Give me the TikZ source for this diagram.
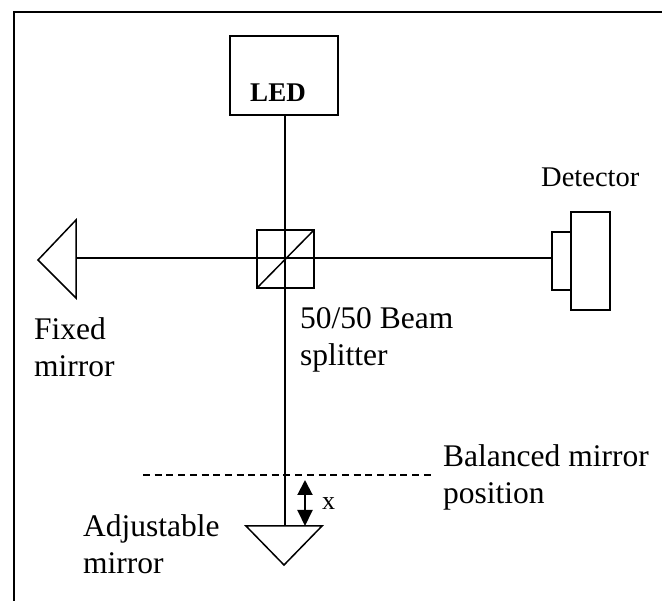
\documentclass[tikz,border=0pt]{standalone}
\usepackage{fontspec}
\setmainfont{Liberation Serif}
\usetikzlibrary{arrows.meta}
\tikzset{
    bauteil/.style={draw, line width=1.6pt, inner sep=0pt, outer sep=0pt, minimum width=#1},
    beschriftung/.style={font=\fontsize{31.5}{37}\selectfont, align=left, anchor=north west, inner sep=0pt},
    strahl/.style={line width=1.5pt}
}
\begin{document}
\begin{tikzpicture}[x=1pt,y=-1pt]
        \useasboundingbox (0,0) rectangle (662,601);
        \coordinate (ecke) at (14,12);
        \draw[line width=2pt] (14,601) -- (ecke) -- (662,12);

        % Bauteile
        \node [bauteil=108pt, minimum height=79pt] (led) at (284,75.5) {};
        \node [font=\fontsize{27}{32}\selectfont\bfseries, anchor=base, inner sep=0pt] (ledtext) at (278,102) {LED};
        \node [bauteil=57pt, minimum height=58pt] (teiler) at (285.5,259) {};
        \node [bauteil=39pt, minimum height=98pt] (detektor) at (590.5,261) {};
        \node [bauteil=19pt, minimum height=58pt, anchor=east] (fenster) at (detektor.west |- 0,261) {};
        \coordinate (spiegelfest) at (76,258);
        \coordinate (spiegelbeweglich) at (285,526);

        % Spiegel
        \draw[strahl, line join=miter] (76,220) -- (38,260) -- (76,298) -- cycle;
        \draw[strahl, line join=miter] (246,526) -- (322,526) -- (284,565) -- cycle;

        % Strahlen
        \draw[strahl] (led.south) ++(1,0) -- (spiegelbeweglich);
        \draw[strahl] (spiegelfest) -- (fenster.west |- spiegelfest);
        \draw[strahl] (teiler.south west) -- (teiler.north east);

        % Position
        \coordinate (balancelinks) at (143,475);
        \coordinate (balancerechts) at (431,475);
        \draw[line width=1.8pt, dash pattern=on 7pt off 4.7pt] (balancelinks) -- (balancerechts);
        \coordinate (xoben) at (305,480);
        \coordinate (xunten) at (305,526);
        \draw[line width=2pt, {Triangle[width=15pt,length=15pt]}-{Triangle[width=15pt,length=16pt]}] (xoben) -- (xunten);

        % Texte
        \node [font=\fontsize{28.5}{34}\selectfont, anchor=base west, inner sep=0pt] (detektortext) at (541,187) {Detector};
        \node [beschriftung] (fest) at (34,317) {Fixed\\mirror};
        \node [beschriftung] (teilertext) at (300,307) {50/50 Beam\\splitter};
        \node [beschriftung] (balance) at (443,444) {Balanced mirror\\position};
        \node [beschriftung] (beweglich) at (83,514) {Adjustable\\mirror};
        \node [font=\fontsize{26}{31}\selectfont, anchor=base west, inner sep=0pt] (xtext) at (322,510) {x};
\end{tikzpicture}
\end{document}
